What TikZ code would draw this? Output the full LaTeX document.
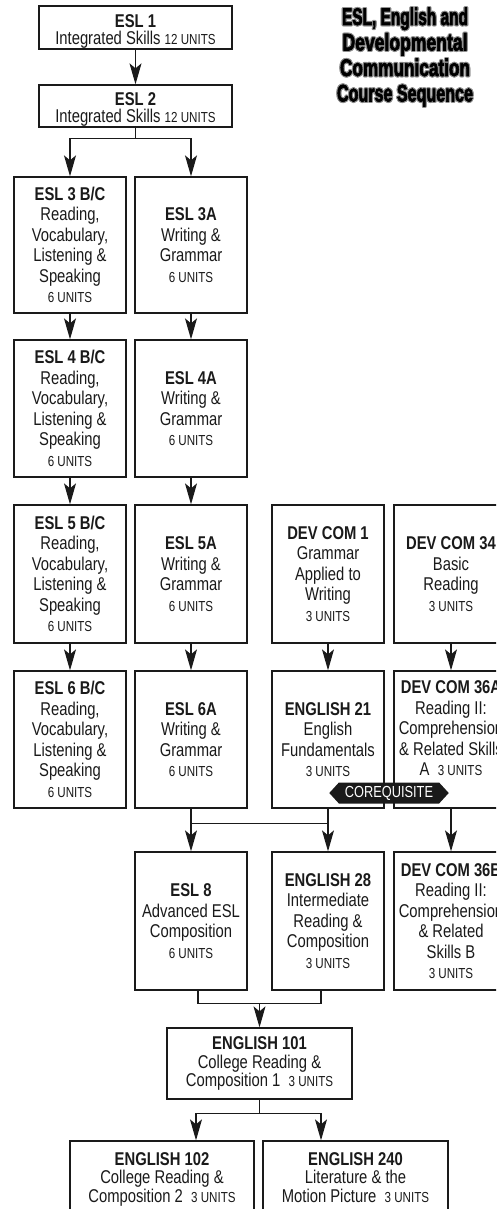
\documentclass[tikz,border=0pt]{standalone}
\usepackage{fontspec}
\usepackage{graphicx}
\setmainfont{Liberation Sans}[FakeStretch=0.8]
\newfontfamily\titlefont{Liberation Sans}[FakeBold=3]
\usetikzlibrary{arrows.meta,shapes.symbols,calc}
\definecolor{ink}{HTML}{1A1A1A}
\definecolor{halo}{HTML}{909090}
\newcommand\un[1]{{\fontsize{14.5}{14.5}\selectfont #1}}
\newcommand\rvls[1]{\textbf{#1}\\Reading,\\Vocabulary,\\Listening \&\\Speaking\\\un{6 UNITS}}
\newcommand\wgr[1]{\textbf{#1}\\Writing \&\\Grammar\\\un{6 UNITS}}
\newcommand\tline[2]{\resizebox{#1pt}{\height}{\titlefont\bfseries #2}}
\begin{document}
\begin{tikzpicture}[x=1pt,y=-1pt,
  box/.style={draw=ink,line width=1.3pt,inner sep=0pt,minimum width=112pt,minimum height=137pt},
  txt/.style={inner sep=0pt,align=center,text=ink,font=\fontsize{18.5}{20.5}\selectfont},
  wtxt/.style={txt,font=\fontsize{18.5}{18.5}\selectfont},
  stxt/.style={txt,font=\fontsize{18.5}{17}\selectfont},
  arr/.style={draw=ink,line width=1.3pt,-{Stealth[length=21pt,width=12pt,inset=5pt]}},
  ln/.style={draw=ink,line width=1.3pt},
  coreq/.style={shape=signal,signal to=east and west,signal pointer angle=95,fill=ink,text=white,
    minimum width=114pt,minimum height=21pt,inner xsep=6pt,inner ysep=2pt,font=\fontsize{16}{16}\selectfont},
  ttl/.style={inner sep=0pt,anchor=base,font=\fontsize{24}{24}\selectfont}]
\useasboundingbox (0,0) rectangle (496,1209);
\clip (0,0) rectangle (496,1209);
\fill[white] (0,0) rectangle (496,1209);

% title
\foreach \w/\t/\yy [count=\i] in {126/{ESL, English and}/25,125/{Developmental}/50.5,130/{Communication}/76,136/{Course Sequence}/101.5}{
  \foreach \dx/\dy in {1.1/0,-1.1/0,0/1.1,0/-1.1,0.8/0.8,-0.8/0.8,0.8/-0.8,-0.8/-0.8}{
    \node[ttl,text=halo] at ($(405,\yy)+(\dx,\dy)$) {\tline{\w}{\t}};
  }
  \node[ttl,text=black] (title\i) at (405,\yy) {\tline{\w}{\t}};
}

% boxes
\node[box,minimum width=193pt,minimum height=43pt] (esl1) at (135.5,27.5) {};
\node[box,minimum width=193pt,minimum height=42pt] (esl2) at (135.5,106) {};
\node[box,minimum height=136pt] (esl3bc) at (70,245) {};
\node[box,minimum height=136pt] (esl3a) at (191,245) {};
\node[box] (esl4bc) at (70,408.5) {};
\node[box] (esl4a) at (191,408.5) {};
\node[box,minimum height=138pt] (esl5bc) at (70,574) {};
\node[box,minimum height=138pt] (esl5a) at (191,574) {};
\node[box,minimum height=138pt] (dev1) at (328,574) {};
\node[box,minimum height=138pt,minimum width=114pt] (dev34) at (451,574) {};
\node[box] (esl6bc) at (70,739.5) {};
\node[box] (esl6a) at (191,739.5) {};
\node[box] (eng21) at (328,739.5) {};
\node[box,minimum width=114pt] (dev36a) at (451,739.5) {};
\node[box,minimum height=138pt] (esl8) at (191,921) {};
\node[box,minimum height=138pt] (eng28) at (328,921) {};
\node[box,minimum height=138pt,minimum width=114pt] (dev36b) at (451,921) {};
\node[box,minimum width=185pt,minimum height=71pt] (eng101) at (259.5,1063.5) {};
\node[box,minimum width=184pt,minimum height=89pt] (eng102) at (162,1185.5) {};
\node[box,minimum width=185pt,minimum height=89pt] (eng240) at (355.5,1185.5) {};

% texts
\node[stxt] (tesl1) at ($(esl1.center)+(0,4)$) {\textbf{ESL 1}\\Integrated Skills \un{12 UNITS}};
\node[stxt] (tesl2) at ($(esl2.center)+(0,3.5)$) {\textbf{ESL 2}\\Integrated Skills \un{12 UNITS}};
\node[txt] (tesl3bc) at (esl3bc.center) {\rvls{ESL 3 B/C}};
\node[txt] (tesl3a) at (esl3a.center) {\wgr{ESL 3A}};
\node[txt] (tesl4bc) at (esl4bc.center) {\rvls{ESL 4 B/C}};
\node[txt] (tesl4a) at (esl4a.center) {\wgr{ESL 4A}};
\node[txt] (tesl5bc) at (esl5bc.center) {\rvls{ESL 5 B/C}};
\node[txt] (tesl5a) at (esl5a.center) {\wgr{ESL 5A}};
\node[txt] (tdev1) at (dev1.center) {\textbf{DEV COM 1}\\Grammar\\Applied to\\Writing\\\un{3 UNITS}};
\node[txt] (tdev34) at (dev34.center) {\textbf{DEV COM 34}\\Basic\\Reading\\\un{3 UNITS}};
\node[txt] (tesl6bc) at (esl6bc.center) {\rvls{ESL 6 B/C}};
\node[txt] (tesl6a) at (esl6a.center) {\wgr{ESL 6A}};
\node[txt] (teng21) at (eng21.center) {\textbf{ENGLISH 21}\\English\\Fundamentals\\\un{3 UNITS}};
\node[txt] (tdev36a) at ($(dev36a.center)+(0,-11)$) {\textbf{DEV COM 36A}\\Reading II:\\Comprehension\\\& Related Skills\\A\ \ \un{3 UNITS}};
\node[txt] (tesl8) at (esl8.center) {\textbf{ESL 8}\\Advanced ESL\\Composition\\\un{6 UNITS}};
\node[txt] (teng28) at (eng28.center) {\textbf{ENGLISH 28}\\Intermediate\\Reading \&\\Composition\\\un{3 UNITS}};
\node[txt] (tdev36b) at (dev36b.center) {\textbf{DEV COM 36B}\\Reading II:\\Comprehension\\\& Related\\Skills B\\\un{3 UNITS}};
\node[wtxt] (teng101) at (eng101.center) {\textbf{ENGLISH 101}\\College Reading \&\\Composition 1\ \ \un{3 UNITS}};
\node[wtxt,anchor=north] (teng102) at ($(eng102.north)+(0,12)$) {\textbf{ENGLISH 102}\\College Reading \&\\Composition 2\ \ \un{3 UNITS}};
\node[wtxt,anchor=north] (teng240) at ($(eng240.north)+(0,12)$) {\textbf{ENGLISH 240}\\Literature \& the\\Motion Picture\ \ \un{3 UNITS}};

% connectors
\draw[arr] (esl1.south) -- (esl2.north);
\coordinate (s2) at ($(esl2.south)+(0,11)$);
\draw[ln] (esl2.south) -- (s2);
\draw[arr] (s2) -| (esl3bc.north);
\draw[arr] (s2) -| (esl3a.north);
\draw[arr] (esl3bc.south) -- (esl4bc.north);
\draw[arr] (esl3a.south) -- (esl4a.north);
\draw[arr] (esl4bc.south) -- (esl5bc.north);
\draw[arr] (esl4a.south) -- (esl5a.north);
\draw[arr] (esl5bc.south) -- (esl6bc.north);
\draw[arr] (esl5a.south) -- (esl6a.north);
\draw[arr] (dev1.south) -- (eng21.north);
\draw[arr] (dev34.south) -- (dev36a.north);
\coordinate (j6) at ($(esl6a.south)+(0,15)$);
\draw[ln] (esl6a.south |- j6) -- (eng21.south |- j6);
\draw[arr] (esl6a.south) -- (esl8.north);
\draw[arr] (eng21.south) -- (eng28.north);
\draw[arr] (dev36a.south) -- (dev36b.north);
\coordinate (j7a) at ($(esl8.south)+(7,13)$);
\coordinate (j7b) at ($(eng28.south)+(-7,13)$);
\draw[ln] ($(esl8.south)+(7,0)$) -- (j7a) -- (j7b) -- ($(eng28.south)+(-7,0)$);
\draw[arr] (eng101.north |- j7a) -- (eng101.north);
\coordinate (j8) at ($(eng101.south)+(0,14)$);
\draw[ln] (eng101.south) -- (j8);
\draw[arr] (j8) -| ($(eng102.north)+(34,0)$);
\draw[arr] (j8) -| ($(eng240.north)+(-34.5,0)$);

\node[coreq] (coreq) at (389,793) {COREQUISITE};
\end{tikzpicture}
\end{document}
